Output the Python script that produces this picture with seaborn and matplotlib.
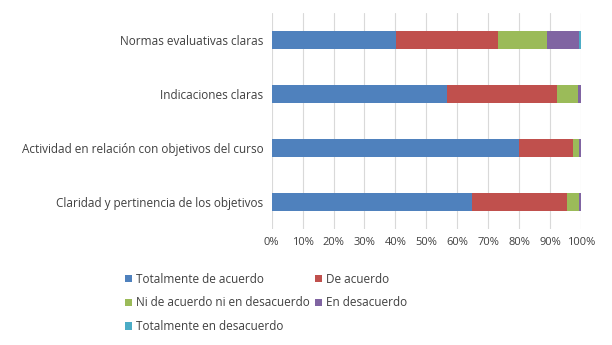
import matplotlib
matplotlib.use("Agg")
import matplotlib.pyplot as plt
from matplotlib.patches import Patch
from matplotlib.ticker import PercentFormatter
import numpy as np
import pandas as pd
import seaborn as sns

categories = ["Normas evaluativas claras",
              "Indicaciones claras",
              "Actividad en relación con objetivos del curso",
              "Claridad y pertinencia de los objetivos"]
series_names = ["Totalmente de acuerdo", "De acuerdo",
                "Ni de acuerdo ni en desacuerdo", "En desacuerdo",
                "Totalmente en desacuerdo"]
totalmente_de_acuerdo = [40.2, 56.8, 80.1, 64.7]
de_acuerdo = [33.1, 35.4, 17.3, 30.7]
ni_ni = [15.7, 7.0, 2.1, 3.9]
en_desacuerdo = [10.5, 0.8, 0.5, 0.7]
totalmente_en_desacuerdo = [0.5, 0.0, 0.0, 0.0]
colors = ["#4F81BD", "#C0504D", "#9BBB59", "#8064A2", "#4BACC6"]

series = [totalmente_de_acuerdo, de_acuerdo, ni_ni, en_desacuerdo, totalmente_en_desacuerdo]
cum = np.cumsum(np.array(series), axis=0)

sns.set_theme(style="white")
plt.rcParams["font.family"] = ["Open Sans", "DejaVu Sans"]

fig = plt.figure(figsize=(6.12, 3.45), dpi=100)
ax = fig.add_axes([0.444, 0.336, 0.505, 0.626])

for i in range(len(series) - 1, -1, -1):
    df = pd.DataFrame({"cat": categories, "val": cum[i]})
    sns.barplot(data=df, x="val", y="cat", orient="h", color=colors[i],
                width=0.34, saturation=1, ax=ax, linewidth=0)

ax.set_xlim(0, 100)
ax.set_ylim(3.5, -0.5)
ax.set_xticks(np.arange(0, 101, 10))
ax.xaxis.set_major_formatter(PercentFormatter(decimals=0))
ax.set_xlabel("")
ax.set_ylabel("")
ax.grid(axis="x", color="#D9D9D9", linewidth=0.8)
ax.set_axisbelow(True)
for s in ax.spines.values():
    s.set_visible(False)
ax.tick_params(axis="y", length=0, labelsize=8.5, colors="#404040", pad=6)
ax.tick_params(axis="x", length=0, labelsize=8, colors="#404040", pad=6)

handles = [Patch(facecolor=c, edgecolor="none") for c in colors]
order = [0, 2, 4, 1, 3]
fig.legend([handles[k] for k in order], [series_names[k] for k in order],
           loc="upper left", bbox_to_anchor=(0.187, 0.24), ncol=2, frameon=False,
           fontsize=8.5, handlelength=0.6, handleheight=0.6, handletextpad=0.3,
           columnspacing=0.5, labelspacing=0.9, labelcolor="#404040")

fig.savefig("out.png", dpi=100)
